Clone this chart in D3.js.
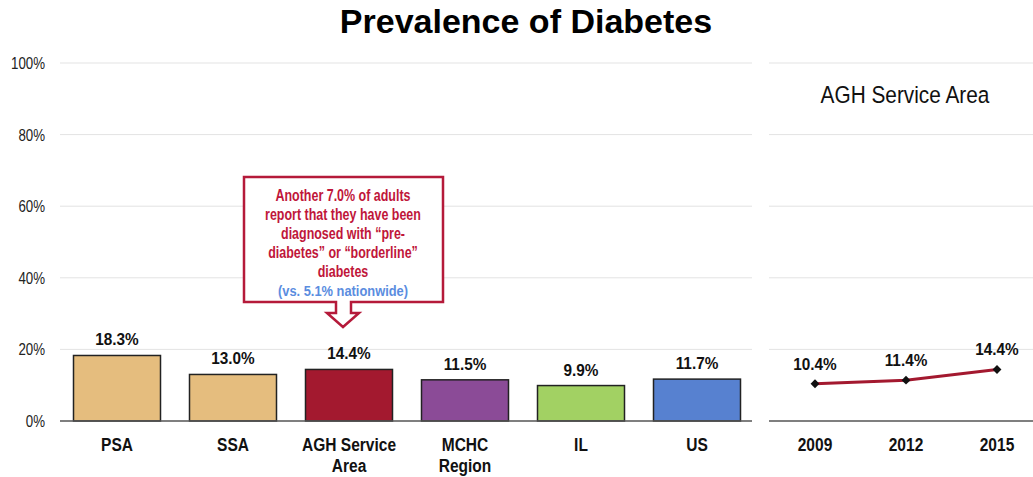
<!DOCTYPE html>
<html><head><meta charset="utf-8">
<script src="https://cdn.jsdelivr.net/npm/d3@7/dist/d3.min.js"></script>
<style>
body{margin:0;background:#fff;}
svg{display:block;font-family:"Liberation Sans",Arial,sans-serif;}
</style></head>
<body>
<svg id="c" width="1033" height="477"></svg>
<script>
const categories = [["PSA"],["SSA"],["AGH Service","Area"],["MCHC","Region"],["IL"],["US"]];
const values = [18.3, 13.0, 14.4, 11.5, 9.9, 11.7];
const barColors = ["#e5bd7e","#e5bd7e","#a3192f","#8b4b97","#a2d163","#5781d0"];
const years = ["2009","2012","2015"];
const trend = [10.4, 11.4, 14.4];
const yTicks = [0,20,40,60,80,100];
const calloutLines = ["Another 7.0% of adults","report that they have been","diagnosed with \u201cpre-","diabetes\u201d or \u201cborderline\u201d","diabetes"];
const calloutNote = "(vs. 5.1% nationwide)";

const svg = d3.select("#c");
const y = d3.scaleLinear().domain([0,100]).range([421,63]);
const x = d3.scaleBand().domain(d3.range(categories.length)).range([59,755]).paddingInner(0.25).paddingOuter(0.125);
const x2 = d3.scalePoint().domain(years).range([815,997]);

// narrow text helper (horizontal compression)
function ntext(parent, px, py, str, opt){
  const g = parent.append("g").attr("transform",`translate(${px},${py}) scale(${opt.sx||1},1)`);
  const t = g.append("text").attr("x",0).attr("y",0).attr("text-anchor",opt.anchor||"middle")
    .style("font-size",opt.size+"px").style("font-weight",opt.bold?"bold":"normal").attr("fill",opt.fill||"#111").text(str);
  return t;
}

// title
svg.append("text").attr("x",526).attr("y",33).attr("text-anchor","middle")
  .style("font-weight","bold").style("font-size","34px").attr("fill","#000").text("Prevalence of Diabetes");

// gridlines
const grid = svg.append("g");
[[60,752],[769,1033]].forEach(([a,b])=>{
  grid.selectAll(null).data(yTicks.filter(t=>t>0)).enter().append("line")
    .attr("x1",a).attr("x2",b).attr("y1",d=>y(d)).attr("y2",d=>y(d))
    .attr("stroke","#e3e3e3").attr("stroke-width",1);
});

// y axis labels (positions via d3 axis scale)
const yAxis = d3.axisLeft(y).tickValues(yTicks).tickFormat(d=>d+"%").tickSize(0).tickPadding(0);
const ya = svg.append("g").attr("transform","translate(45,0)").call(yAxis);
ya.select(".domain").remove();
ya.selectAll(".tick text").remove();
ya.selectAll(".tick").each(function(d){
  ntext(d3.select(this), 0, 5.5, d+"%", {size:16, sx:0.83, anchor:"end", fill:"#222"});
});

// bars
svg.selectAll(".bar").data(values).enter().append("rect")
  .attr("x",(d,i)=>x(i)).attr("width",x.bandwidth())
  .attr("y",d=>y(d)).attr("height",d=>y(0)-y(d))
  .attr("fill",(d,i)=>barColors[i]).attr("stroke","#222").attr("stroke-width",1.5);

// value labels
values.forEach((v,i)=>{
  ntext(svg, x(i)+x.bandwidth()/2, y(v)-10, v.toFixed(1)+"%", {size:16.5, sx:0.93, bold:true});
});

// baselines
svg.append("line").attr("x1",60).attr("x2",752).attr("y1",y(0)).attr("y2",y(0)).attr("stroke","#555").attr("stroke-width",1.5);
svg.append("line").attr("x1",769).attr("x2",1033).attr("y1",y(0)).attr("y2",y(0)).attr("stroke","#555").attr("stroke-width",1.5);

// x labels
categories.forEach((lines,i)=>{
  lines.forEach((l,j)=>ntext(svg, x(i)+x.bandwidth()/2, 451+j*21, l, {size:18.5, sx:0.84, bold:true}));
});

// right panel
ntext(svg, 905, 103, "AGH Service Area", {size:24.5, sx:0.85, fill:"#111"});
const line = d3.line().x((d,i)=>x2(years[i])).y(d=>y(d));
svg.append("path").datum(trend).attr("d",line).attr("fill","none").attr("stroke","#a3192f").attr("stroke-width",3);
svg.selectAll(".pt").data(trend).enter().append("path")
  .attr("d",d3.symbol().type(d3.symbolDiamond2).size(50))
  .attr("transform",(d,i)=>`translate(${x2(years[i])},${y(d)})`).attr("fill","#111");
trend.forEach((v,i)=>{
  ntext(svg, x2(years[i]), y(v)-14, v.toFixed(1)+"%", {size:16.5, sx:0.93, bold:true});
});
years.forEach(yr=>ntext(svg, x2(yr), 451, yr, {size:18.5, sx:0.84, bold:true}));

// callout
const cx = 343;
const co = svg.append("g");
co.append("path").attr("d",`M244,177 H443 V302 H351 V313 H359 L343,327 L327,313 H336 V302 H244 Z`)
  .attr("fill","#fff").attr("stroke","#b51a3a").attr("stroke-width",2.5).attr("stroke-linejoin","miter");
calloutLines.forEach((l,i)=>{
  ntext(co, cx, 200.5+i*19.1, l, {size:16, sx:0.78, bold:true, fill:"#c0163a"});
});
ntext(co, cx, 200.5+5*19.1, calloutNote, {size:15.5, sx:0.83, bold:true, fill:"#5b8ddf"});
</script>
</body></html>
